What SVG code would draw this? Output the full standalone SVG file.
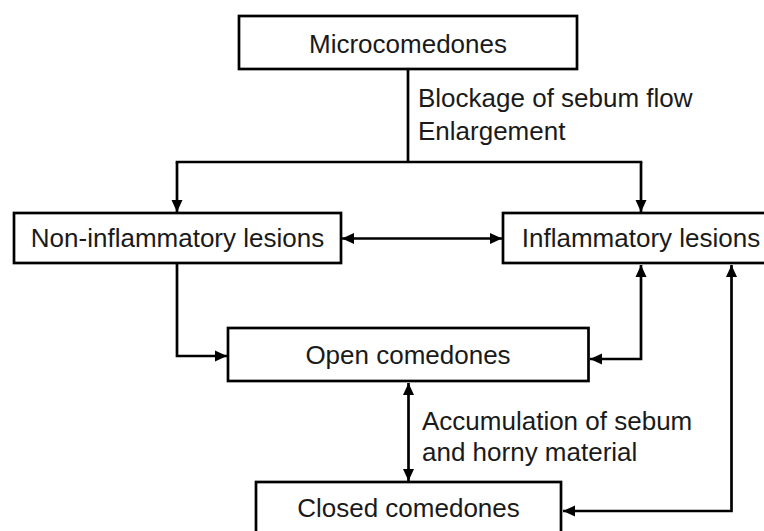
<svg xmlns="http://www.w3.org/2000/svg" width="764" height="531" viewBox="0 0 764 531">
<style>
.box{fill:#fff;stroke:#000;stroke-width:2.7}
.lbl{font-family:"Liberation Sans",Arial,sans-serif;font-size:26px;fill:#1a1a1a}
.c{text-anchor:middle}
.con{fill:none;stroke:#000;stroke-width:2.7}
</style>
<defs>
<marker id="ah" viewBox="0 0 12 12" refX="12" refY="6" markerWidth="12" markerHeight="12" markerUnits="userSpaceOnUse" orient="auto-start-reverse">
<path d="M0,0.5 L12,6 L0,11.5 Z" fill="#000"/>
</marker>
</defs>
<rect width="764" height="531" fill="#fff"/>
<g id="connectors">
<path class="con" d="M408 69 V162"/>
<path class="con" d="M175.7 162 H642.3"/>
<path class="con" d="M177 162 V212" marker-end="url(#ah)"/>
<path class="con" d="M641 162 V212" marker-end="url(#ah)"/>
<path class="con" d="M342 238.5 H502" marker-start="url(#ah)" marker-end="url(#ah)"/>
<path class="con" d="M177 263 V356 H227" marker-end="url(#ah)"/>
<path class="con" d="M641 265 V359 H590" marker-start="url(#ah)" marker-end="url(#ah)"/>
<path class="con" d="M408.5 383 V481" marker-start="url(#ah)" marker-end="url(#ah)"/>
<path class="con" d="M731.5 265 V511 H563" marker-start="url(#ah)" marker-end="url(#ah)"/>
</g>
<g id="microcomedones">
<rect class="box" x="239" y="16" width="338" height="53"/>
<text class="lbl c" x="408" y="52.5">Microcomedones</text>
</g>
<g id="label-blockage">
<text class="lbl" x="418" y="107">Blockage of sebum flow</text>
<text class="lbl" x="418" y="140">Enlargement</text>
</g>
<g id="non-inflammatory">
<rect class="box" x="14" y="213" width="327" height="50"/>
<text class="lbl c" x="177.5" y="247">Non-inflammatory lesions</text>
</g>
<g id="inflammatory">
<rect class="box" x="503" y="213" width="276" height="50"/>
<text class="lbl c" x="641" y="247">Inflammatory lesions</text>
</g>
<g id="open-comedones">
<rect class="box" x="228" y="328" width="360.5" height="53"/>
<text class="lbl c" x="408" y="364">Open comedones</text>
</g>
<g id="label-accumulation">
<text class="lbl" x="422" y="430">Accumulation of sebum</text>
<text class="lbl" x="422" y="461">and horny material</text>
</g>
<g id="closed-comedones">
<rect class="box" x="256" y="482" width="305" height="54"/>
<text class="lbl c" x="408.5" y="516.5">Closed comedones</text>
</g>
</svg>
